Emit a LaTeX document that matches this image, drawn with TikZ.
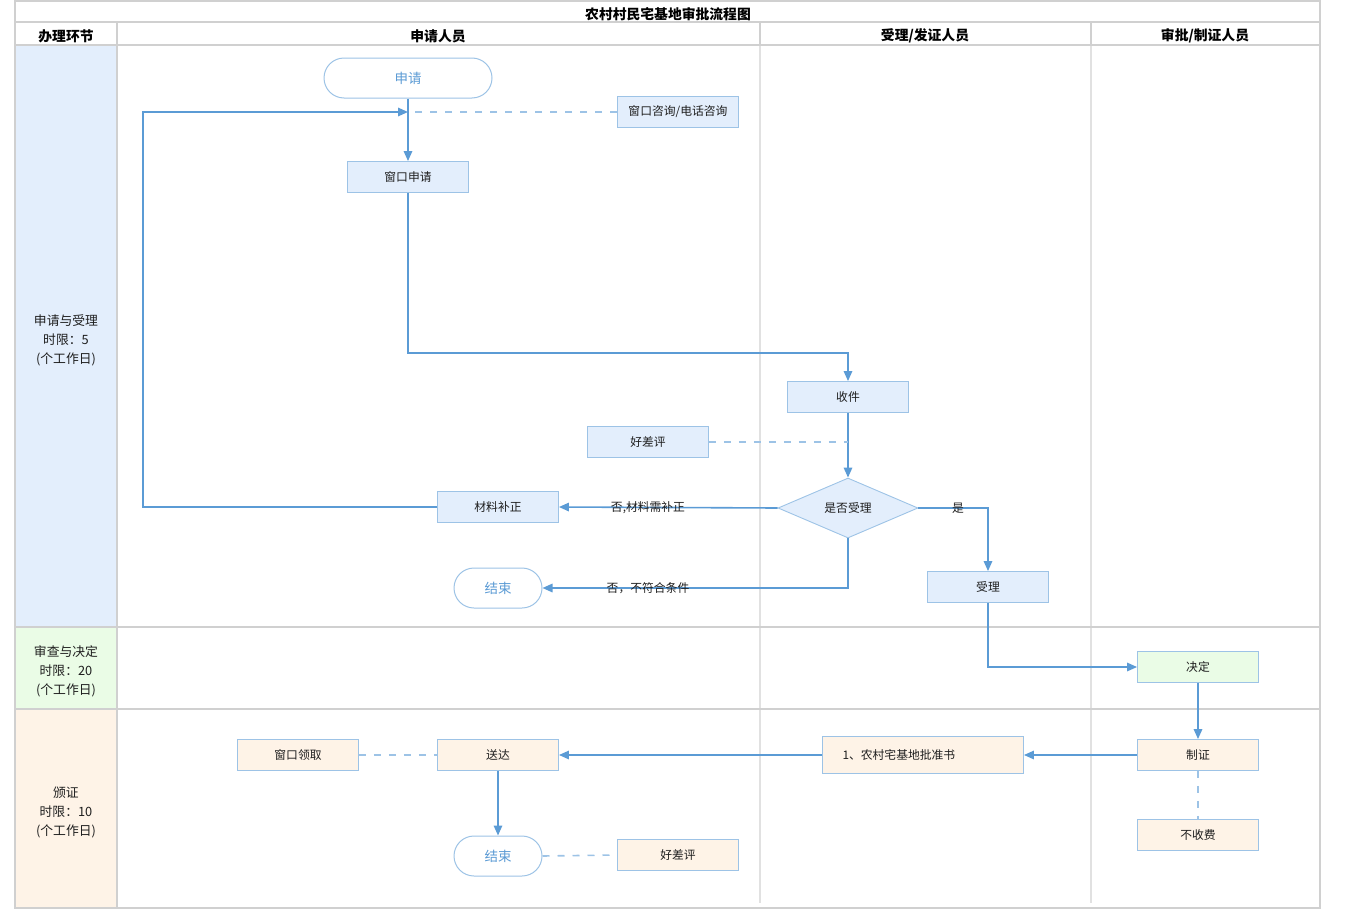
\documentclass[tikz,border=0pt]{standalone}
\usepackage{fontspec}
\setmainfont{Noto Sans CJK SC}
\usetikzlibrary{shapes.geometric,arrows.meta}
\definecolor{lineblue}{RGB}{91,155,213}
\definecolor{edgeblue}{RGB}{157,195,230}
\definecolor{fillblue}{RGB}{227,238,252}
\definecolor{fillgreen}{RGB}{234,252,230}
\definecolor{fillorange}{RGB}{254,243,231}
\definecolor{gridgray}{RGB}{208,208,208}
\definecolor{gridlight}{RGB}{225,225,225}
\definecolor{txt}{RGB}{30,30,30}
\tikzset{
  box/.style={draw=edgeblue, line width=0.9pt, minimum width=121pt, minimum height=31pt, inner sep=0pt, font=\fontsize{11.8}{13}\selectfont, text=txt},
  bbox/.style={box, fill=fillblue},
  gbox/.style={box, fill=fillgreen},
  obox/.style={box, fill=fillorange},
  term/.style={draw=edgeblue, line width=1pt, fill=white, rounded corners=20pt, minimum height=40pt, inner sep=0pt, text=lineblue, font=\fontsize{13.5}{15}\selectfont},
  dec/.style={draw=edgeblue, line width=0.9pt, fill=fillblue, diamond, aspect=2.333, minimum width=140pt, minimum height=60pt, inner sep=0pt, font=\fontsize{11.8}{13}\selectfont, text=txt},
  flow/.style={draw=lineblue, line width=1.6pt, -{Triangle[length=10pt,width=8.5pt]}},
  dashln/.style={draw=edgeblue, line width=1.6pt, dash pattern=on 7pt off 8pt},
  lbl/.style={font=\fontsize{11.8}{13}\selectfont, text=txt, inner sep=0pt},
  hdr/.style={font=\fontsize{13.8}{15}\selectfont\bfseries, text=black, inner sep=0pt},
  phase/.style={font=\fontsize{12.8}{19}\selectfont, text=txt, align=center, inner sep=0pt}
}
\begin{document}
\begin{tikzpicture}[x=1pt,y=-1pt]
\useasboundingbox (0,0) rectangle (1350,910);
% phase fills
\fill[fillblue] (15,45) rectangle (117,627);
\fill[fillgreen] (15,627) rectangle (117,709);
\fill[fillorange] (15,709) rectangle (117,908);
% grid
\draw[gridlight, line width=1.5pt] (760,45) -- (760,903);
\draw[gridlight, line width=1.5pt] (1091,45) -- (1091,903);
\draw[gridgray, line width=1.5pt] (760,22) -- (760,45);
\draw[gridgray, line width=1.5pt] (1091,22) -- (1091,45);
\draw[gridgray, line width=2pt] (117,22) -- (117,908);
\draw[gridgray, line width=2pt] (15,22) -- (1320,22);
\draw[gridgray, line width=2pt] (15,45) -- (1320,45);
\draw[gridgray, line width=2pt] (15,627) -- (1320,627);
\draw[gridgray, line width=2pt] (15,709) -- (1320,709);
\draw[gridgray, line width=2pt] (15,1) rectangle (1320,908);
% headers
\node[hdr] (title) at (668,14) {农村村民宅基地审批流程图};
\node[hdr] (h0) at (66,36) {办理环节};
\node[hdr] (h1) at (438,36) {申请人员};
\node[hdr] (h2) at (925,36) {受理/发证人员};
\node[hdr] (h3) at (1205,36) {审批/制证人员};
\node[phase] (p1) at (66,340) {申请与受理\\时限：5\\(个工作日)};
\node[phase] (p2) at (66,671) {审查与决定\\时限：20\\(个工作日)};
\node[phase] (p3) at (66,812) {颁证\\时限：10\\(个工作日)};
% nodes
\node[term, minimum width=168pt] (start) at (408,78) {申请};
\node[bbox] (consult) at (678,112) {窗口咨询/电话咨询};
\node[bbox] (apply) at (408,177) {窗口申请};
\node[bbox] (recv) at (848,397) {收件};
\node[bbox] (eval1) at (648,442) {好差评};
\node[dec] (judge) at (848,508) {是否受理};
\node[bbox] (fix) at (498,507) {材料补正};
\node[term, minimum width=88pt] (end1) at (498,588) {结束};
\node[bbox] (accept) at (988,587) {受理};
\node[gbox] (decide) at (1198,667) {决定};
\node[obox] (make) at (1198,755) {制证};
\node[obox] (nofee) at (1198,835) {不收费};
\node[obox, minimum width=201pt, minimum height=37pt, text width=161pt, align=left] (cert) at (923,755) {1、农村宅基地批准书};
\node[obox] (deliver) at (498,755) {送达};
\node[obox] (pickup) at (298,755) {窗口领取};
\node[term, minimum width=88pt] (end2) at (498,856) {结束};
\node[obox] (eval2) at (678,855) {好差评};
\coordinate (m1) at (408,112);
% connectors
\draw[dashln] (consult.west) -- (m1);
\draw[flow] (start.south) -- (apply.north);
\draw[flow] (fix.west) -- (143,507) -- (143,112) -- (m1);
\draw[flow] (apply.south) -- (408,353) -- (848,353) -- (recv.north);
\draw[flow] (recv.south) -- (judge.north);
\draw[dashln] (eval1.east) -- (848,442);
\draw[flow] (judge.west) -- (fix.east);
\node[lbl] (l1) at (648,508) {否,材料需补正};
\draw[flow] (judge.south) -- (848,588) -- (end1.east);
\node[lbl] (l2) at (648,588) {否，不符合条件};
\draw[flow] (judge.east) -- (988,508) -- (accept.north);
\node[lbl] (l3) at (958,508) {是};
\draw[flow] (accept.south) -- (988,667) -- (decide.west);
\draw[flow] (decide.south) -- (make.north);
\draw[dashln] (make.south) -- (nofee.north);
\draw[flow] (make.west) -- (cert.east);
\draw[flow] (cert.west) -- (deliver.east);
\draw[dashln] (pickup.east) -- (deliver.west);
\draw[flow] (deliver.south) -- (end2.north);
\draw[dashln] (end2.east) -- (eval2.west);
\end{tikzpicture}
\end{document}
